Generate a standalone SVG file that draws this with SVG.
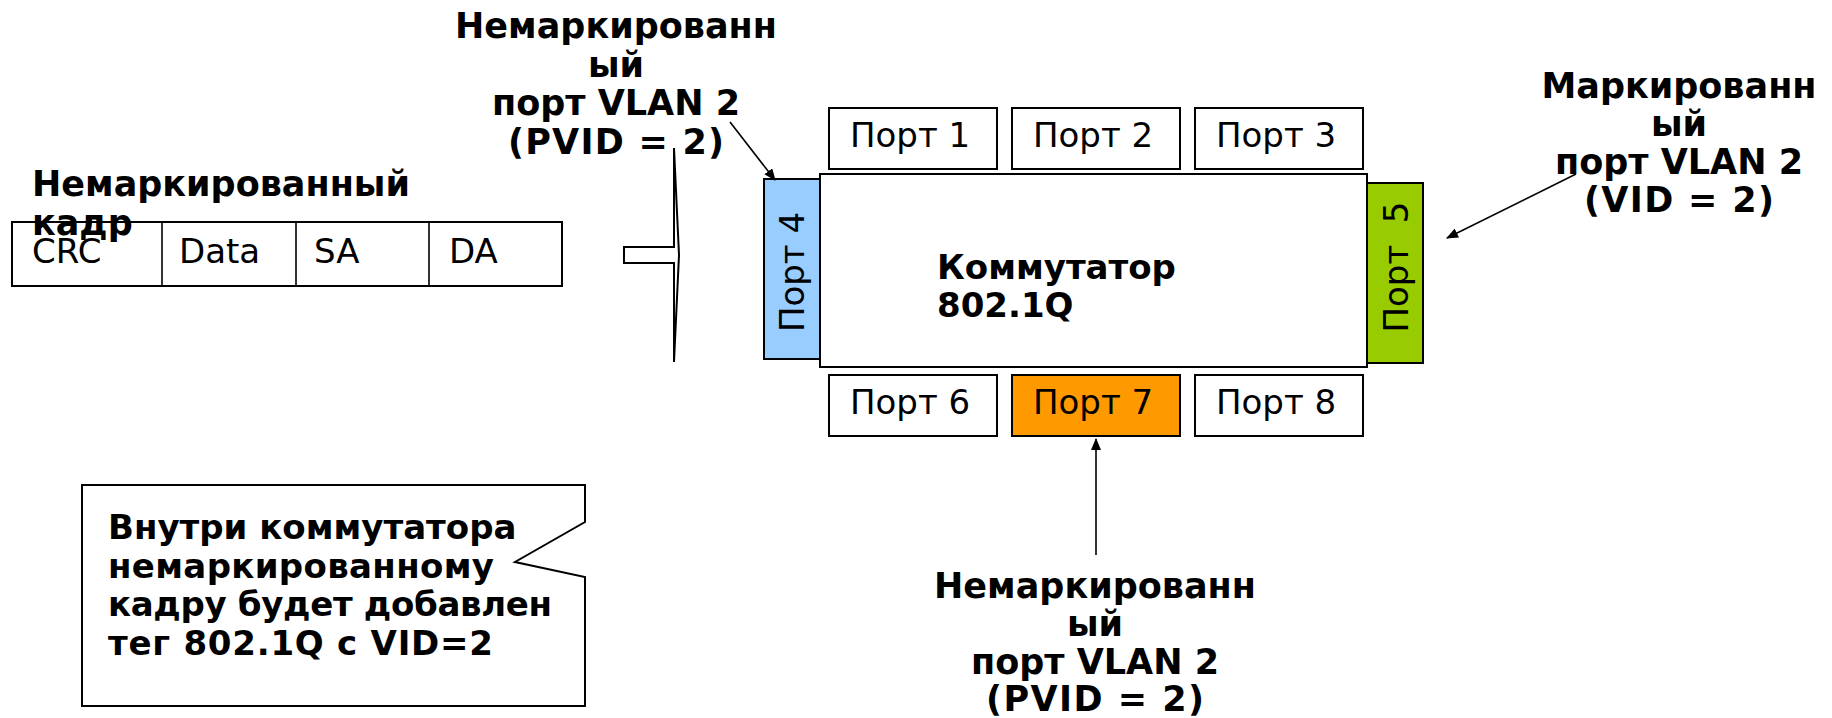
<svg xmlns="http://www.w3.org/2000/svg" width="1832" height="718" viewBox="0 0 1832 718">
<defs>
<style>
.box{fill:#fff;stroke:#000;stroke-width:2}
.t{font-family:"DejaVu Sans","Liberation Sans",sans-serif;font-size:34px;fill:#000}
.b{font-family:"DejaVu Sans","Liberation Sans",sans-serif;font-size:34px;font-weight:bold;fill:#000}
.l{font-size:35px}
.c{text-anchor:middle}
.ln{fill:none;stroke:#000;stroke-width:1.6}
</style>
<marker id="ah" viewBox="0 0 12 10" refX="11" refY="5" markerWidth="12" markerHeight="10" markerUnits="userSpaceOnUse" orient="auto">
<path d="M0,0 L12,5 L0,10 z" fill="#000"/>
</marker>
</defs>
<rect width="1832" height="718" fill="#fff"/>

<g id="frame">
<rect class="box" x="12" y="222" width="550" height="64"/>
<line class="ln" x1="162" y1="222" x2="162" y2="286" stroke-width="2"/>
<line class="ln" x1="296" y1="222" x2="296" y2="286" stroke-width="2"/>
<line class="ln" x1="429" y1="222" x2="429" y2="286" stroke-width="2"/>
<text class="t" x="32" y="263">CRC</text>
<text class="t" x="179" y="263">Data</text>
<text class="t" x="314" y="263">SA</text>
<text class="t" x="449" y="263">DA</text>
</g>

<g id="frame-label">
<text class="b l" x="32" y="196">Немаркированный</text>
<text class="b l" x="32" y="235">кадр</text>
</g>

<g id="block-arrow">
<polygon points="624,247 674,247 674,148 679,255 674,362 674,263 624,263" fill="#fff" stroke="#000" stroke-width="2" stroke-linejoin="miter"/>
</g>

<g id="switch">
<rect class="box" x="820" y="174" width="547" height="193"/>
<text class="b" x="937" y="279">Коммутатор</text>
<text class="b" x="937" y="317">802.1Q</text>
</g>

<g id="port1"><rect class="box" x="829" y="108" width="168" height="61"/><text class="t" x="850" y="147">Порт 1</text></g>
<g id="port2"><rect class="box" x="1012" y="108" width="168" height="61"/><text class="t" x="1033" y="147">Порт 2</text></g>
<g id="port3"><rect class="box" x="1195" y="108" width="168" height="61"/><text class="t" x="1216" y="147">Порт 3</text></g>
<g id="port6"><rect class="box" x="829" y="375" width="168" height="61"/><text class="t" x="850" y="414">Порт 6</text></g>
<g id="port7"><rect class="box" x="1012" y="375" width="168" height="61" style="fill:#FF9900"/><text class="t" x="1033" y="414">Порт 7</text></g>
<g id="port8"><rect class="box" x="1195" y="375" width="168" height="61"/><text class="t" x="1216" y="414">Порт 8</text></g>

<g id="port4">
<rect class="box" x="764" y="179" width="56" height="180" style="fill:#99CCFF"/>
<text class="t c" transform="translate(804,272) rotate(-90)">Порт 4</text>
</g>
<g id="port5">
<rect class="box" x="1367" y="183" width="56" height="180" style="fill:#99CC00"/>
<text class="t c" transform="translate(1408,267) rotate(-90)" style="white-space:pre">Порт  5</text>
</g>

<g id="label-top">
<text class="b l c" x="616" y="38">Немаркированн</text>
<text class="b l c" x="616" y="76.5">ый</text>
<text class="b l c" x="616" y="115">порт VLAN 2</text>
<text class="b l c" x="616" y="153.5" textLength="216" lengthAdjust="spacing">(PVID = 2)</text>
</g>

<g id="label-right">
<text class="b l c" x="1679" y="98">Маркированн</text>
<text class="b l c" x="1679" y="136">ый</text>
<text class="b l c" x="1679" y="174">порт VLAN 2</text>
<text class="b l c" x="1679" y="212" textLength="190" lengthAdjust="spacing">(VID = 2)</text>
</g>

<g id="label-bottom">
<text class="b l c" x="1095" y="598">Немаркированн</text>
<text class="b l c" x="1095" y="636">ый</text>
<text class="b l c" x="1095" y="674">порт VLAN 2</text>
<text class="b l c" x="1095" y="711" textLength="218" lengthAdjust="spacing">(PVID = 2)</text>
</g>

<g id="callout">
<polygon points="82,485 585,485 585,522 515,562 585,577 585,706 82,706" fill="#fff" stroke="#000" stroke-width="2"/>
<text class="b" x="108" y="539">Внутри коммутатора</text>
<text class="b" x="108" y="577.5" textLength="386" lengthAdjust="spacing">немаркированному</text>
<text class="b" x="108" y="616" textLength="444" lengthAdjust="spacing">кадру будет добавлен</text>
<text class="b" x="108" y="655" textLength="385" lengthAdjust="spacing">тег 802.1Q с VID=2</text>
</g>

<g id="connectors">
<line class="ln" x1="730" y1="122" x2="775" y2="180" marker-end="url(#ah)"/>
<line class="ln" x1="1576" y1="174" x2="1447" y2="238" marker-end="url(#ah)"/>
<line class="ln" x1="1096" y1="555" x2="1096" y2="439" marker-end="url(#ah)"/>
</g>
</svg>
